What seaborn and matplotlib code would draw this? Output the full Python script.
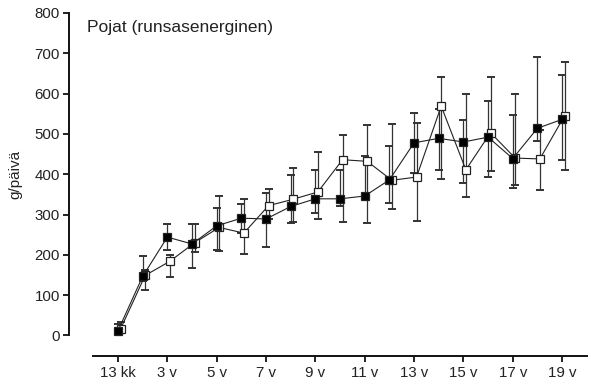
import numpy as np
import pandas as pd
import matplotlib
matplotlib.use("Agg")
import matplotlib.pyplot as plt
import seaborn as sns

# age groups: 13 kk, 2 v ... 19 v
ages = np.arange(1, 20)
tick_pos = [1, 3, 5, 7, 9, 11, 13, 15, 17, 19]
tick_labels = ["13 kk", "3 v", "5 v", "7 v", "9 v", "11 v", "13 v", "15 v", "17 v", "19 v"]

# filled squares
filled_mean = [12, 147, 244, 227, 272, 291, 289, 320, 339, 339, 346, 386, 478, 489, 480, 492, 439, 514, 536]
filled_low = [2, 135, 213, 167, 212, 255, 219, 280, 304, 320, 338, 328, 402, 410, 378, 392, 367, 483, 435]
filled_high = [28, 196, 276, 276, 315, 327, 354, 398, 411, 411, 446, 471, 552, 562, 535, 582, 546, 690, 645]

# open squares
open_mean = [16, 149, 184, 230, 268, 254, 322, 338, 356, 436, 432, 385, 393, 569, 411, 503, 440, 438, 545]
open_low = [5, 113, 146, 208, 210, 201, 290, 282, 288, 281, 280, 314, 284, 388, 343, 407, 373, 361, 410]
open_high = [33, 162, 200, 276, 347, 338, 364, 416, 455, 498, 521, 524, 526, 642, 598, 642, 600, 510, 679]

sns.set_style("ticks")
plt.rcParams["font.family"] = ["Liberation Sans", "DejaVu Sans"]

fig = plt.figure(figsize=(5.91, 3.85), dpi=100)
ax = fig.add_axes([0.158, 0.1286, 0.8348, 0.8377])

series = [
    ("filled", ages, filled_mean, filled_low, filled_high, "black"),
    ("open", ages + 0.1, open_mean, open_low, open_high, "white"),
]

for name, xs, mean, low, high, face in series:
    mean = np.array(mean)
    yerr = [mean - np.array(low), np.array(high) - mean]
    ax.errorbar(xs, mean, yerr=yerr, fmt="none", ecolor="#333333",
                elinewidth=0.9, capsize=2.6, capthick=1.4, zorder=2, clip_on=False)

for name, xs, mean, low, high, face in series:
    df = pd.DataFrame({"x": xs, "y": mean})
    sns.lineplot(data=df, x="x", y="y", ax=ax, color="#222222", linewidth=0.8,
                 marker="s", markersize=6.2, markerfacecolor=face,
                 markeredgecolor="#222222", markeredgewidth=0.9,
                 zorder=3 if name == "open" else 4, clip_on=False)

ax.set_xlim(0, 20)
ax.set_ylim(0, 800)
ax.set_xticks(tick_pos)
ax.set_xticklabels(tick_labels)
ax.set_yticks(range(0, 801, 100))
ax.set_xlabel("")
ax.set_ylabel("g/päivä", fontsize=11, color="#222222", labelpad=9)

ax.spines["top"].set_visible(False)
ax.spines["right"].set_visible(False)
ax.spines["left"].set_position(("outward", 17.3))
ax.spines["bottom"].set_position(("outward", 15.1))
for s in ["left", "bottom"]:
    ax.spines[s].set_linewidth(1.4)
    ax.spines[s].set_color("#111111")
ax.tick_params(axis="both", length=4.3, width=1.3, color="#111111",
               labelsize=10.8, labelcolor="#222222", pad=2.5)

ax.text(-0.012, 0.955, "Pojat (runsasenerginen)", transform=ax.transAxes,
        ha="left", va="center", fontsize=12.5, color="#222222")

fig.savefig("out.png", dpi=100)
